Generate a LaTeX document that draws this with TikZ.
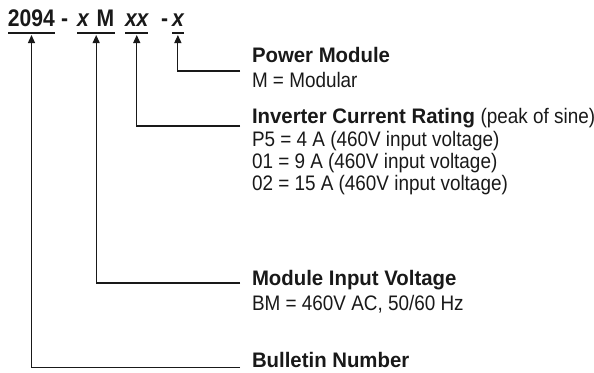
\documentclass[tikz,border=0pt]{standalone}
\usepackage{fontspec}
\usetikzlibrary{arrows.meta,calc}
\newfontfamily\hvreg[FakeStretch=0.9]{Liberation Sans}
\newfontfamily\hvbld[FakeStretch=0.97]{Liberation Sans}
\newfontfamily\hvhead[FakeStretch=0.88]{Liberation Sans}
\begin{document}
\begin{tikzpicture}[x=1pt,y=-1pt,
  txt/.style={anchor=base west,inner sep=0pt,outer sep=0pt,font=\hvreg\fontsize{21}{23}\selectfont,text=black!90},
  hd/.style={anchor=base west,inner sep=0pt,outer sep=0pt,font=\hvbld\bfseries\fontsize{21}{23}\selectfont,text=black!90},
  code/.style={anchor=base west,inner sep=0pt,outer sep=0pt,font=\hvhead\bfseries\fontsize{24}{26}\selectfont,text=black!90},
  uline/.style={line width=1.4pt,draw=black!90},
  conn/.style={line width=1.2pt,draw=black!90,-{Triangle[length=8pt,width=7pt]}}]
\useasboundingbox (0,0) rectangle (594,372);
% code line
\node[code] (c1) at (8,27) {2094};
\node[code] (h1) at (61,27) {-};
\node[code] (c2) at (77,27) {\itshape x\upshape\hspace{8pt}M};
\node[code] (c3) at (125,27) {\itshape xx};
\node[code] (h2) at (161,27) {-};
\node[code] (c4) at (172,27) {\itshape x};
\draw[uline] ($(c1.base west)+(0,6)$) -- ($(c1.base east)+(0,6)$);
\draw[uline] ($(c2.base west)+(0,6)$) -- ($(c2.base east)+(1,6)$);
\draw[uline] ($(c3.base west)+(0,6)$) -- ($(c3.base east)+(0,6)$);
\draw[uline] ($(c4.base west)+(0,6)$) -- ($(c4.base east)+(0,6)$);
% text blocks
\node[hd] (pm) at (252,62) {Power Module};
\node[txt] (pm1) at (252,87) {M = Modular};
\node[hd] (ic) at (252,123) {Inverter Current Rating \hvreg\mdseries(peak of sine)};
\node[txt] (ic1) at (252,146) {P5 = 4 A (460V input voltage)};
\node[txt] (ic2) at (252,168) {01 = 9 A (460V input voltage)};
\node[txt] (ic3) at (252,190) {02 = 15 A (460V input voltage)};
\node[hd] (mv) at (252,285) {Module Input Voltage};
\node[txt] (mv1) at (252,310) {BM = 460V AC, 50/60 Hz};
\node[hd] (bn) at (252,367) {Bulletin Number};
% connector ends
\coordinate (e4) at (240,71);
\coordinate (e3) at (240,126);
\coordinate (e2) at (240,283);
\coordinate (e1) at (240,367.5);
\draw[conn] (e4) -| ($(c4.base)+(0,8)$);
\draw[conn] (e3) -| ($(c3.base)+(0,8)$);
\draw[conn] (e2) -| ($(c2.base)+(0.5,8)$);
\draw[conn] (e1) -| ($(c1.base)+(0,8)$);
\end{tikzpicture}
\end{document}
